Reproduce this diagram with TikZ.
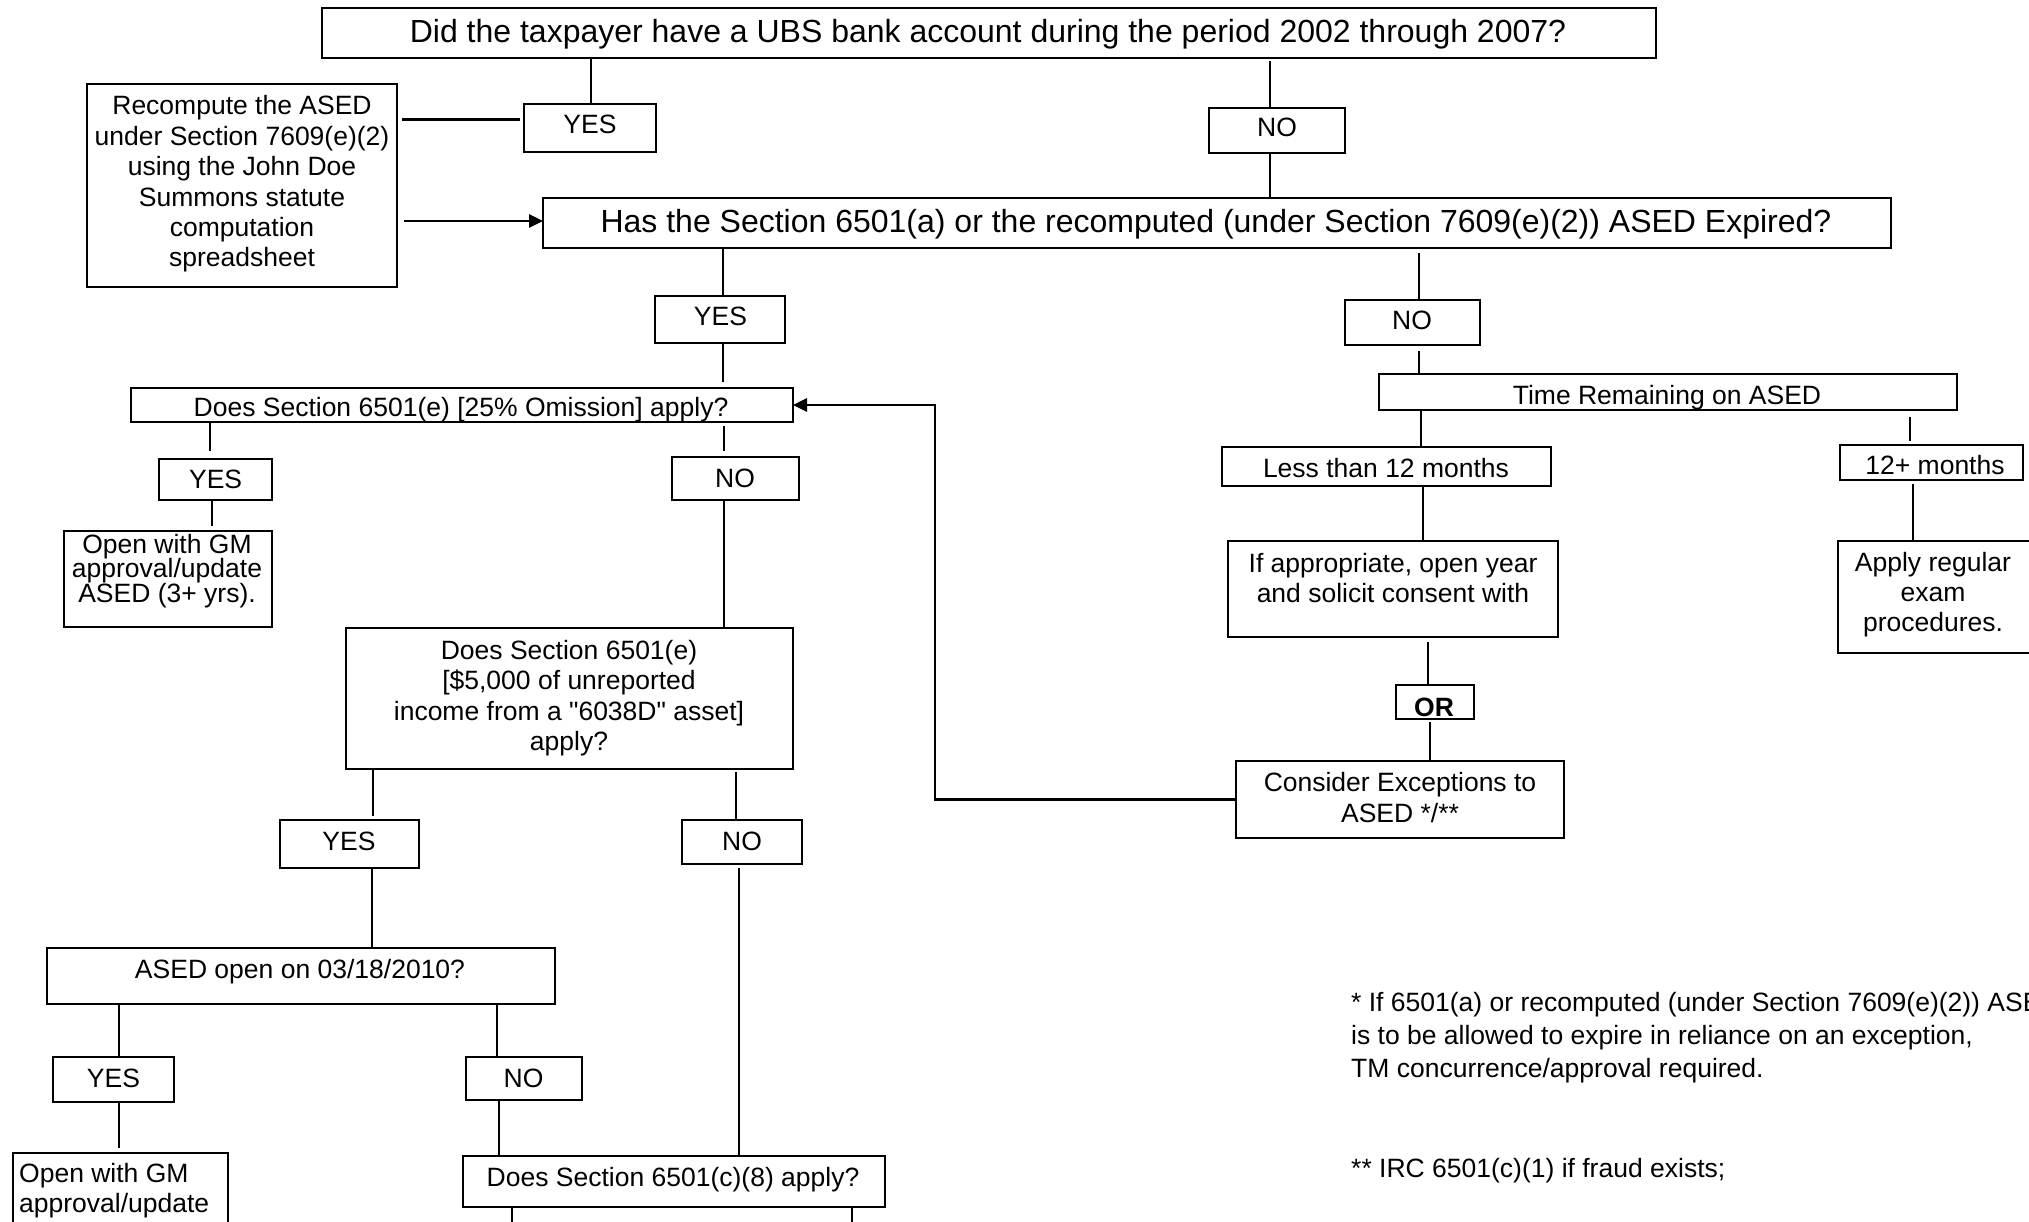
\documentclass[tikz,border=0pt]{standalone}
\usepackage{fontspec}
\setmainfont{Liberation Sans}[Ligatures=TeXOff]
\usetikzlibrary{arrows.meta}
\newcommand\mkbox[5]{\node[box, minimum width={#4-#2}, minimum height={#5-#3}] (#1) at ({(#2+#4)/2},{(#3+#5)/2}) {};}
\newcommand\vcon[4][]{\draw[conn,#1] (#3.south -| #2,0) -- (#4.north -| #2,0);}
\begin{document}
\begin{tikzpicture}[x=1pt,y=-1pt,
  box/.style={draw, line width=1.7pt, inner sep=0pt, outer sep=0pt},
  conn/.style={line width=2.6pt},
  arr/.style={conn, -{Triangle[length=14pt,width=13pt]}},
  big/.style={font=\fontsize{32}{38}\selectfont, inner sep=0pt, anchor=base},
  sm/.style={font=\fontsize{26.5}{30}\selectfont, inner sep=0pt, anchor=base},
  smb/.style={font=\fontsize{26.5}{30}\selectfont\bfseries, inner sep=0pt, anchor=base}]
\useasboundingbox (0,0) rectangle (2029,1222);
\fill[white] (0,0) rectangle (2029,1222);
\clip (0,0) rectangle (2029,1222);

% boxes
\mkbox{top}{322}{8}{1656}{58}
\mkbox{yes1}{524}{104}{656}{152}
\mkbox{no1}{1209}{108}{1345}{153}
\mkbox{recomp}{87}{84}{397}{287}
\mkbox{has}{543}{198}{1891}{248}
\mkbox{yes2}{655}{296}{785}{343}
\mkbox{no2}{1345}{300}{1480}{345}
\mkbox{time}{1379}{374}{1957}{410}
\mkbox{less}{1222}{447}{1551}{486}
\mkbox{plus12}{1840}{445}{2023}{480}
\mkbox{apply}{1838}{541}{2031}{653}
\mkbox{ifapp}{1228}{541}{1558}{637}
\mkbox{orb}{1396}{685}{1474}{719}
\mkbox{consider}{1236}{761}{1564}{838}
\mkbox{q25}{131}{388}{793}{422}
\mkbox{yes3}{159}{459}{272}{500}
\mkbox{no3}{672}{457}{799}{500}
\mkbox{open1}{64}{531}{272}{627}
\mkbox{q5000}{346}{628}{793}{769}
\mkbox{yes4}{280}{820}{419}{868}
\mkbox{no4}{682}{820}{802}{864}
\mkbox{asedopen}{47}{948}{555}{1004}
\mkbox{yes5}{53}{1057}{174}{1102}
\mkbox{no5}{466}{1057}{582}{1100}
\mkbox{open2}{13}{1153}{228}{1260}
\mkbox{q68}{463}{1156}{885}{1207}

% texts
\node[big] (topt) at (988,43) {Did the taxpayer have a UBS bank account during the period 2002 through 2007?};
\node[big] (hast) at (1216,233) {Has the Section 6501(a) or the recomputed (under Section 7609(e)(2)) ASED Expired?};
\node[sm] (yes1t) at (590,134) {YES};
\node[sm] (no1t) at (1277,137) {NO};
\node[sm] (rc1) at (242,115) {Recompute the ASED};
\node[sm] (rc2) at (242,145.4) {under Section 7609(e)(2)};
\node[sm] (rc3) at (242,175.8) {using the John Doe};
\node[sm] (rc4) at (242,206.2) {Summons statute};
\node[sm] (rc5) at (242,236.6) {computation};
\node[sm] (rc6) at (242,267) {spreadsheet};
\node[sm] (yes2t) at (720.5,326) {YES};
\node[sm] (no2t) at (1412,330) {NO};
\node[sm] (timet) at (1667,404) {Time Remaining on ASED};
\node[sm] (lesst) at (1386,477) {Less than 12 months};
\node[sm] (plus12t) at (1935,474) {12+ months};
\node[sm] (ap1) at (1933,571) {Apply regular};
\node[sm] (ap2) at (1933,601) {exam};
\node[sm] (ap3) at (1933,631) {procedures.};
\node[sm] (if1) at (1393,572) {If appropriate, open year};
\node[sm] (if2) at (1393,602) {and solicit consent with};
\node[smb] (ort) at (1434,716) {OR};
\node[sm] (co1) at (1400,791) {Consider Exceptions to};
\node[sm] (co2) at (1400,822) {ASED */**};
\node[sm] (q25t) at (461,417) {Does Section 6501(e) [25\% Omission] apply?};
\node[sm] (yes3t) at (215.6,488) {YES};
\node[sm] (no3t) at (735,487) {NO};
\node[sm] (op1) at (167,553) {Open with GM};
\node[sm] (op2) at (167,577.5) {approval/update};
\node[sm] (op3) at (167,602) {ASED (3+ yrs).};
\node[sm] (q5a) at (569,659) {Does Section 6501(e)};
\node[sm] (q5b) at (569,689.5) {[\$5,000 of unreported};
\node[sm] (q5c) at (569,720) {income from a "6038D" asset]};
\node[sm] (q5d) at (569,750) {apply?};
\node[sm] (yes4t) at (349,850) {YES};
\node[sm] (no4t) at (742,850) {NO};
\node[sm] (asedt) at (300,978) {ASED open on 03/18/2010?};
\node[sm] (yes5t) at (113.5,1087) {YES};
\node[sm] (no5t) at (523.6,1087) {NO};
\node[sm, anchor=base west] (oq1) at (19,1182) {Open with GM};
\node[sm, anchor=base west] (oq2) at (19,1212) {approval/update};
\node[sm] (q68t) at (673,1186) {Does Section 6501(c)(8) apply?};
\node[sm, anchor=base west] (fn1) at (1351,1011) {* If 6501(a) or recomputed (under Section 7609(e)(2)) ASED};
\node[sm, anchor=base west] (fn2) at (1351,1044) {is to be allowed to expire in reliance on an exception,};
\node[sm, anchor=base west] (fn3) at (1351,1077) {TM concurrence/approval required.};
\node[sm, anchor=base west] (fn4) at (1351,1177) {** IRC 6501(c)(1) if fraud exists;};

% connectors
\vcon{591}{top}{yes1}
\vcon[shorten <=3pt]{1270}{top}{no1}
\vcon{1270}{no1}{has}
\draw[conn, line width=3pt, shorten <=5pt, shorten >=4pt] (recomp.east |- 0,120) -- (yes1.west |- 0,120);
\draw[arr, shorten <=7pt] (recomp.east |- 0,221) -- (has.west |- 0,221);
\vcon{723}{has}{yes2}
\vcon[shorten <=5pt]{1419}{has}{no2}
\vcon[shorten <=6pt]{1419}{no2}{time}
\vcon{1421}{time}{less}
\vcon[shorten <=7pt, shorten >=4pt]{1910}{time}{plus12}
\vcon[shorten <=4pt]{1913}{plus12}{apply}
\vcon{1423}{less}{ifapp}
\vcon[shorten <=5pt]{1428}{ifapp}{orb}
\vcon[shorten <=3pt]{1430}{orb}{consider}
\coordinate (loopc) at (935,405);
\draw[arr] (consider.west) -| (loopc) -- (q25.east);
\vcon[shorten >=6pt]{723}{yes2}{q25}
\vcon[shorten >=8pt]{210}{q25}{yes3}
\vcon[shorten >=5pt]{212}{yes3}{open1}
\vcon[shorten <=4pt, shorten >=6pt]{724}{q25}{no3}
\vcon{724}{no3}{q5000}
\vcon[shorten >=4pt]{373}{q5000}{yes4}
\vcon{372}{yes4}{asedopen}
\vcon[shorten <=3pt]{736}{q5000}{no4}
\vcon[shorten <=4pt]{739}{no4}{q68}
\vcon{119}{asedopen}{yes5}
\vcon[shorten >=5pt]{119}{yes5}{open2}
\vcon{497}{asedopen}{no5}
\vcon{499}{no5}{q68}
\coordinate (end1) at (512,1240);
\coordinate (end2) at (852,1240);
\draw[conn] (q68.south -| end1) -- (end1);
\draw[conn] (q68.south -| end2) -- (end2);
\end{tikzpicture}
\end{document}
